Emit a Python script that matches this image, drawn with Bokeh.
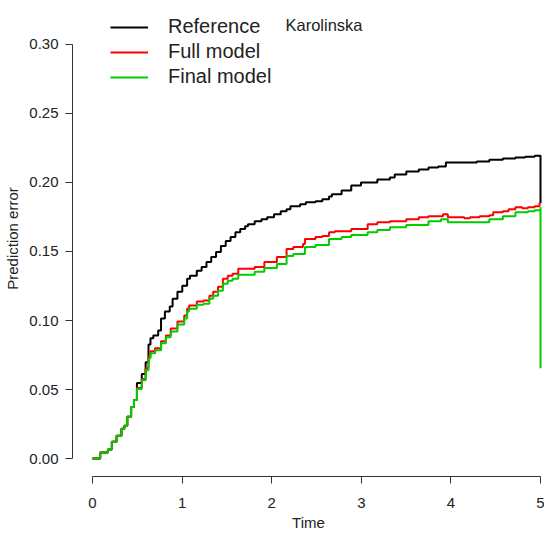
from bokeh.plotting import figure
from bokeh.models import Range1d, FixedTicker, Legend, LegendItem, Label
from bokeh.embed import file_html
from bokeh.resources import INLINE

# ---- data ----
time_ref = [0, 0.086, 0.172, 0.216, 0.269, 0.323, 0.356, 0.388, 0.431, 0.463, 0.496, 0.550,
            0.593, 0.625, 0.647, 0.679, 0.733, 0.765, 0.808, 0.862, 0.894, 0.948, 1.002, 1.056,
            1.088, 1.164, 1.218, 1.272, 1.325, 1.379, 1.433, 1.487, 1.541, 1.595, 1.649, 1.703,
            1.735, 1.810, 1.886, 1.950, 2.026, 2.101, 2.166, 2.209, 2.317, 2.381, 2.489, 2.565,
            2.640, 2.672, 2.780, 2.888, 2.996, 3.179, 3.319, 3.373, 3.502, 3.642, 3.750, 3.858,
            3.944, 4.052, 4.289, 4.429, 4.580, 4.720, 4.828, 4.935, 5.0, 5.0]
pe_ref = [0, 0.0043, 0.0065, 0.0122, 0.0165, 0.0216, 0.0237, 0.0302, 0.0374, 0.0424, 0.0547, 0.0612,
          0.0698, 0.0827, 0.0871, 0.0892, 0.0928, 0.1014, 0.1065, 0.1101, 0.1158, 0.1209, 0.1252, 0.1302,
          0.1324, 0.1360, 0.1388, 0.1424, 0.1460, 0.1496, 0.1540, 0.1576, 0.1604, 0.1640, 0.1662, 0.1683,
          0.1698, 0.1719, 0.1734, 0.1748, 0.1770, 0.1791, 0.1806, 0.1827, 0.1842, 0.1856, 0.1863, 0.1878,
          0.1899, 0.1914, 0.1942, 0.1978, 0.2000, 0.2022, 0.2036, 0.2058, 0.2079, 0.2094, 0.2108, 0.2115,
          0.2144, 0.2144, 0.2151, 0.2165, 0.2173, 0.2180, 0.2187, 0.2194, 0.2194, 0.1849]

time_full = [0, 0.086, 0.172, 0.216, 0.269, 0.323, 0.356, 0.388, 0.431, 0.463, 0.496, 0.550,
             0.593, 0.625, 0.647, 0.697, 0.765, 0.819, 0.873, 0.948, 1.024, 1.056, 1.078, 1.164,
             1.239, 1.304, 1.347, 1.401, 1.455, 1.509, 1.563, 1.627, 1.703, 1.810, 1.918, 2.058,
             2.166, 2.241, 2.349, 2.371, 2.489, 2.565, 2.640, 2.705, 2.888, 3.071, 3.179, 3.319,
             3.502, 3.642, 3.750, 3.858, 3.912, 3.966, 4.149, 4.213, 4.321, 4.429, 4.472, 4.580,
             4.644, 4.720, 4.795, 4.860, 4.935, 4.989, 5.0]
pe_full = [0, 0.0043, 0.0065, 0.0122, 0.0165, 0.0216, 0.0237, 0.0302, 0.0374, 0.0424, 0.0511, 0.0576,
           0.0655, 0.0741, 0.0777, 0.0799, 0.0849, 0.0892, 0.0942, 0.0993, 0.1036, 0.1086, 0.1108, 0.1137,
           0.1144, 0.1180, 0.1209, 0.1245, 0.1302, 0.1324, 0.1338, 0.1374, 0.1374, 0.1388, 0.1424, 0.1460,
           0.1518, 0.1532, 0.1554, 0.1590, 0.1604, 0.1612, 0.1640, 0.1647, 0.1662, 0.1698, 0.1712, 0.1719,
           0.1734, 0.1748, 0.1755, 0.1755, 0.1770, 0.1748, 0.1741, 0.1748, 0.1755, 0.1763, 0.1784, 0.1791,
           0.1806, 0.1820, 0.1813, 0.1820, 0.1827, 0.1849, 0.1849]

time_final = [0, 0.086, 0.172, 0.216, 0.269, 0.323, 0.356, 0.388, 0.431, 0.463, 0.496, 0.550,
              0.593, 0.625, 0.647, 0.700, 0.765, 0.819, 0.873, 0.948, 1.024, 1.056, 1.078, 1.164,
              1.239, 1.304, 1.347, 1.401, 1.455, 1.509, 1.563, 1.627, 1.703, 1.810, 1.918, 2.058,
              2.166, 2.241, 2.371, 2.489, 2.640, 2.780, 2.888, 3.071, 3.179, 3.319, 3.502, 3.750,
              3.890, 3.966, 4.213, 4.429, 4.580, 4.720, 4.860, 4.935, 5.0, 5.0]
pe_final = [0, 0.0043, 0.0065, 0.0122, 0.0165, 0.0216, 0.0237, 0.0302, 0.0374, 0.0424, 0.0504, 0.0568,
            0.0640, 0.0727, 0.0763, 0.0784, 0.0835, 0.0878, 0.0921, 0.0971, 0.1014, 0.1065, 0.1086, 0.1115,
            0.1122, 0.1158, 0.1180, 0.1216, 0.1266, 0.1288, 0.1302, 0.1331, 0.1331, 0.1353, 0.1381, 0.1410,
            0.1468, 0.1482, 0.1532, 0.1547, 0.1590, 0.1604, 0.1619, 0.1640, 0.1655, 0.1676, 0.1691, 0.1719,
            0.1734, 0.1712, 0.1712, 0.1734, 0.1755, 0.1784, 0.1791, 0.1799, 0.1820, 0.0655]

series_names = ["Reference", "Full model", "Final model"]
series_colors = ["#000000", "#FF0000", "#00CD00"]
x_ticks = [0, 1, 2, 3, 4, 5]
y_ticks = [0.0, 0.05, 0.10, 0.15, 0.20, 0.25, 0.30]
y_tick_labels = ["0.00", "0.05", "0.10", "0.15", "0.20", "0.25", "0.30"]
title_text = "Karolinska"
x_label = "Time"
y_label = "Prediction error"

FONT = "Liberation Sans"

p = figure(width=544, height=533,
           x_range=Range1d(-0.2232, 5.0446), y_range=Range1d(-0.0130, 0.3318),
           output_backend="svg", toolbar_location=None,
           min_border_left=72, min_border_right=0, min_border_top=0, min_border_bottom=56)
p.xgrid.visible = False
p.ygrid.visible = False
p.outline_line_color = None
p.background_fill_color = "white"
p.border_fill_color = "white"

for ax, ticks in ((p.xaxis[0], x_ticks), (p.yaxis[0], y_ticks)):
    ax.ticker = FixedTicker(ticks=ticks)
    ax.bounds = (min(ticks), max(ticks))
    ax.axis_line_color = "#333333"
    ax.major_tick_line_color = "#333333"
    ax.major_tick_out = 7
    ax.major_tick_in = 0
    ax.minor_tick_line_color = None
    ax.major_label_text_font = FONT
    ax.major_label_text_font_size = "15px"
    ax.major_label_text_color = "#222222"
    ax.axis_label_text_font = FONT
    ax.axis_label_text_font_size = "15px"
    ax.axis_label_text_font_style = "normal"
    ax.axis_label_text_color = "#222222"

p.xaxis.axis_label = x_label
p.yaxis.axis_label = y_label
p.xaxis.major_label_standoff = 14
p.xaxis.axis_label_standoff = 3
p.yaxis.major_label_standoff = 7
p.yaxis.axis_label_standoff = 5
p.yaxis.major_label_overrides = {t: s for t, s in zip(y_ticks, y_tick_labels)}
p.xaxis.major_label_overrides = {t: str(t) for t in x_ticks}

renderers = []
for xs, ys, col in ((time_ref, pe_ref, series_colors[0]),
                    (time_full, pe_full, series_colors[1]),
                    (time_final, pe_final, series_colors[2])):
    r = p.step(xs, ys, mode="after", line_color=col, line_width=2)
    renderers.append(r)

legend = Legend(items=[LegendItem(label=n, renderers=[r]) for n, r in zip(series_names, renderers)],
                location=(38, 388), orientation="vertical",
                glyph_width=38, glyph_height=20, label_height=20, label_standoff=20,
                spacing=2, padding=0, margin=0,
                border_line_color=None, background_fill_alpha=0,
                label_text_font=FONT, label_text_font_size="20px", label_text_color="#222222")
p.add_layout(legend, "center")

title = Label(x=2.584, y=0.30, y_offset=19, text=title_text, text_align="center",
              text_baseline="alphabetic", text_font=FONT, text_font_size="16.5px",
              text_color="#222222")
p.add_layout(title)

open("out.html", "w").write(file_html(p, INLINE))
